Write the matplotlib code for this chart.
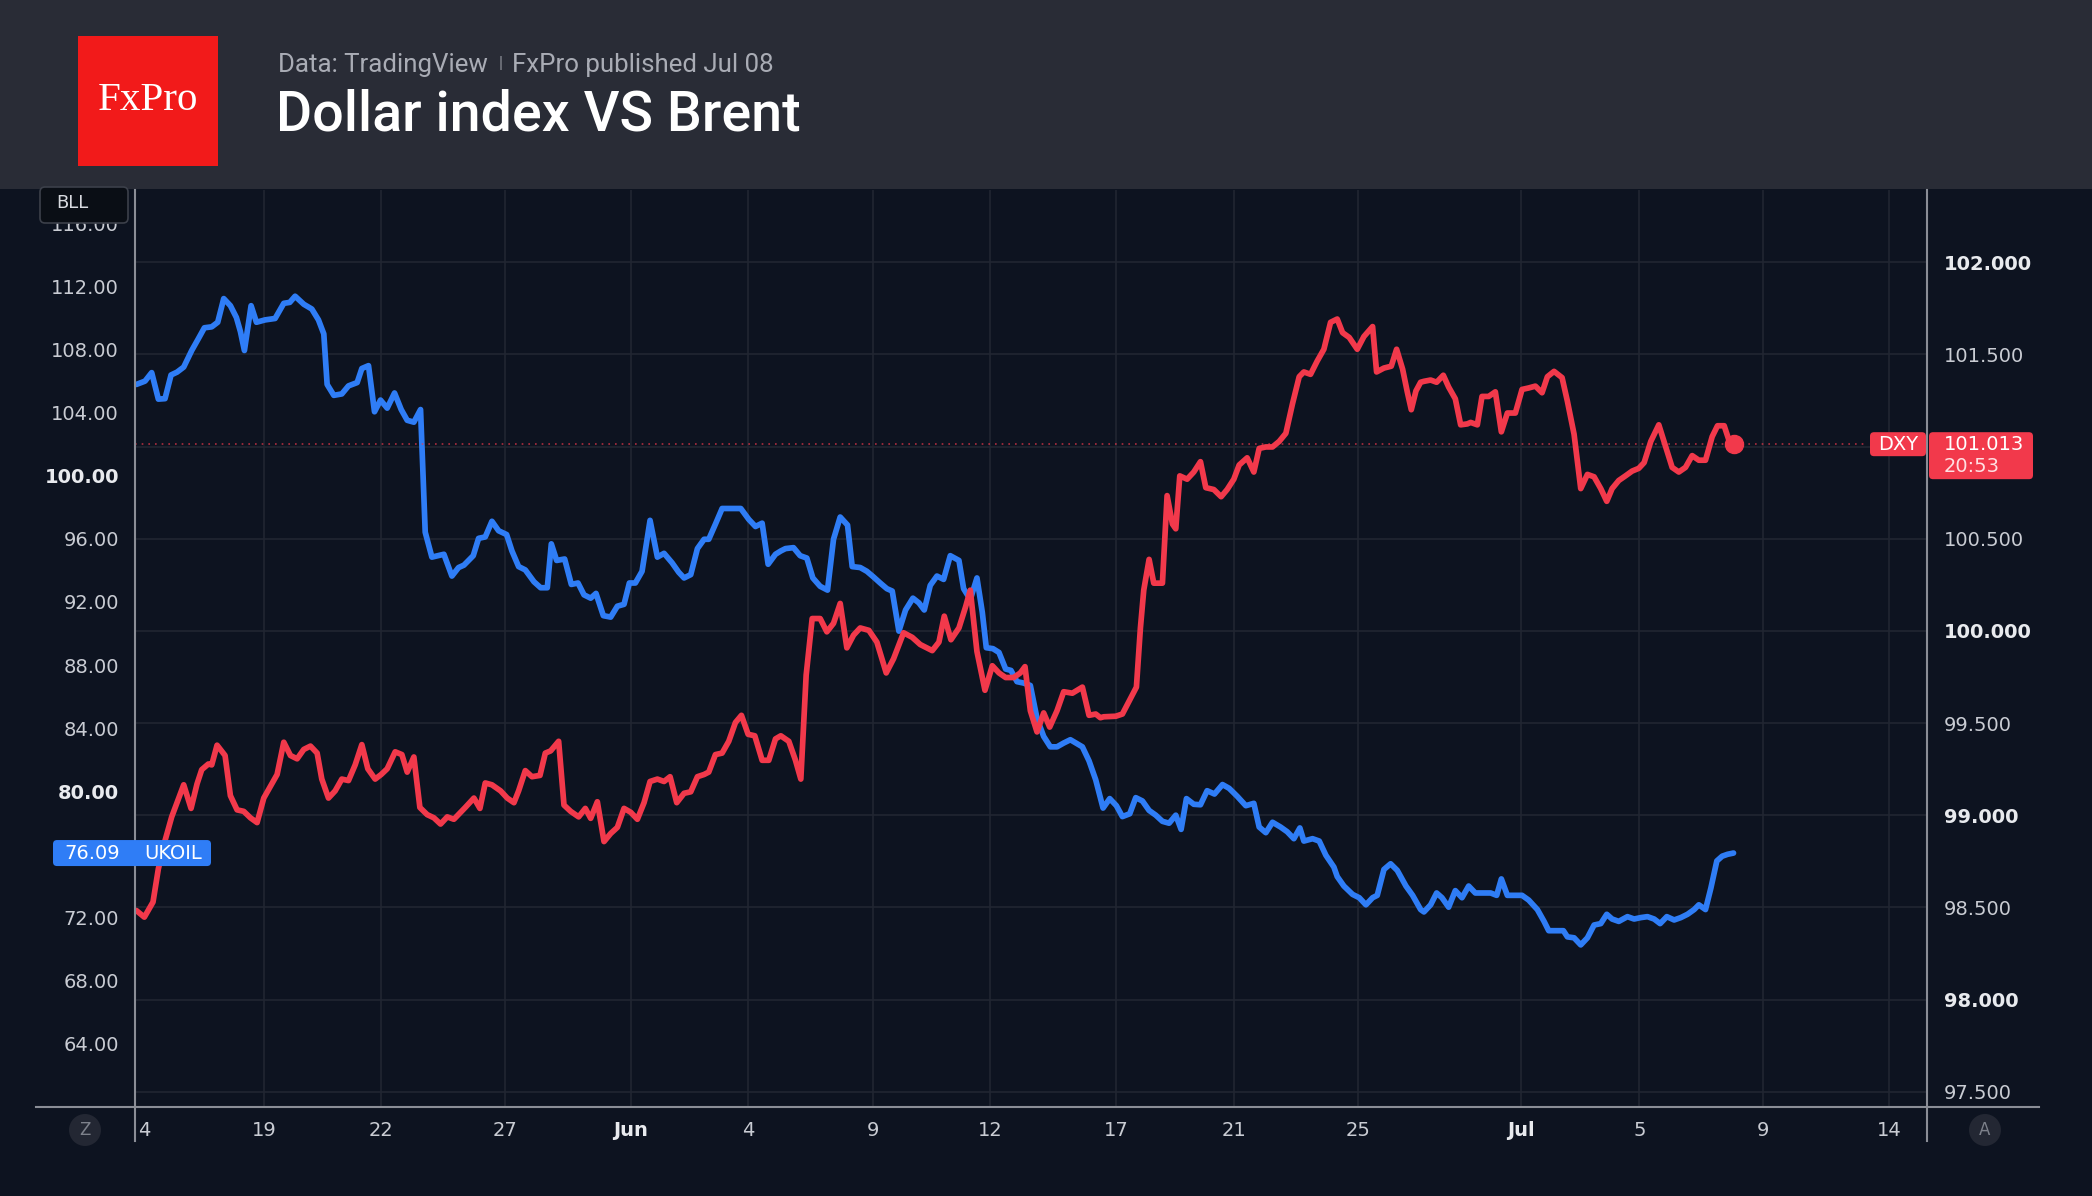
import matplotlib
matplotlib.use("Agg")
import matplotlib.pyplot as plt
from matplotlib.patches import Rectangle, FancyBboxPatch, Circle
from matplotlib.lines import Line2D
from matplotlib.transforms import IdentityTransform

# colors
BG = '#0d1320'
HEADER = '#292c36'
GRID = '#212632'
AXLINE = '#8a8d96'
BLUE = '#2f7df6'
RED = '#f2394b'
LOGO = '#f21a1a'
TXT = '#c9ccd3'
TXT_B = '#e8eaee'

# x is a bar index along the TradingView time scale
brent_x = [0.2, 1.5, 2.5, 3.5, 4.5, 5.4, 6.3, 7.3, 8.5, 9.5, 10.4, 11.5, 12.4, 13.3, 14.3, 15.2, 15.8, 16.4,
           17.4, 18.2, 19.5, 21.0, 22.3, 23.2, 24.0, 25.3, 26.5, 27.5, 28.3, 28.8, 29.8, 31.0, 32.0, 33.3,
           34.0, 35.0, 35.9, 36.8, 37.8, 38.9, 39.9, 40.8, 41.8, 42.8, 43.5, 44.5, 46.3, 47.5, 48.5,
           49.3, 50.7, 51.5, 52.5, 53.5, 54.5, 55.7, 56.5, 57.5, 58.5, 59.8, 60.8, 61.8, 62.4, 63.2, 64.4,
           65.4, 66.4, 67.3, 68.3, 69.1, 70.2, 71.3, 72.3, 73.3, 74.1, 75.0, 76.0, 77.2, 78.3, 79.3, 80.5,
           81.5, 82.3, 83.3, 84.3, 85.3, 86.0, 87.0, 88.0, 90.8, 92.0, 93.0, 94.0, 94.9, 96.0, 96.8,
           97.5, 98.7, 99.7, 100.7, 101.6, 102.7, 103.8, 104.7, 105.7, 106.8, 107.5, 108.7, 109.7, 110.7,
           111.7, 112.7, 113.5, 114.5, 115.5, 116.6, 117.5, 118.3, 119.2, 120.2, 121.2, 122.2, 123.5, 124.2,
           125.2, 126.2, 127.0, 127.6, 128.6, 129.5, 130.5, 131.3, 132.2, 133.2, 134.2, 135.2, 136.2, 137.2,
           138.2, 139.2, 140.2, 142.0, 143.0, 144.0,
           145.1, 146.1, 147.1, 148.0, 149.1, 150.0, 151.0, 152.0, 153.0, 154.0, 155.0, 156.0, 156.8, 157.6,
           158.7, 159.7, 160.7, 161.8, 163.0, 164.0, 165.2, 166.5, 167.7, 168.5, 169.5, 170.5, 171.7, 172.7,
           173.7, 174.6, 175.2, 176.5, 177.5, 178.5, 179.7, 180.2, 181.2, 182.5, 183.5, 184.5, 185.5, 186.2,
           187.2, 188.2, 189.2, 190.5, 191.5, 192.7,
           193.2, 194.2, 195.1, 195.9, 196.9, 197.9, 198.9, 199.9, 200.9, 201.9, 203.2, 204.1, 204.8, 205.7,
           206.7, 207.9, 208.9, 210.2, 211.2, 211.9, 213.2, 214.1, 214.7, 215.7, 216.7, 217.7, 218.7, 219.7,
           220.6, 221.4, 222.4, 223.7, 224.7, 225.7, 226.7, 227.7, 228.6, 229.6, 230.7, 231.7, 232.7, 233.7,
           234.4, 235.4, 236.2, 237.1, 237.9, 238.7, 239.6]
brent_y = [105.78, 105.99, 106.53, 104.85, 104.88, 106.38, 106.56, 106.88, 107.93, 108.68, 109.37, 109.43,
           109.72, 111.22, 110.77, 110.02, 109.13, 107.93, 110.77, 109.72, 109.87, 109.96, 110.92, 110.98,
           111.37, 110.86, 110.56, 109.87, 108.98, 105.78, 105.09, 105.18, 105.69, 105.90, 106.79, 106.97,
           104.05, 104.79, 104.28, 105.24, 104.19, 103.51, 103.39, 104.19, 96.42, 94.84, 95.02, 93.64, 94.18,
           94.33, 94.93, 96.03, 96.12, 97.11, 96.51, 96.27, 95.23, 94.24, 94.03, 93.28, 92.90, 92.90, 95.68,
           94.63, 94.72, 93.11, 93.20, 92.45, 92.24, 92.54, 91.13, 91.04, 91.73, 91.85, 93.20, 93.20, 93.94,
           97.17, 94.84, 95.08, 94.48, 93.88, 93.52, 93.73, 95.38, 95.97, 95.97, 96.93, 97.92, 97.92, 97.23,
           96.78, 96.99, 94.39, 95.02, 95.23,
           95.38, 95.44, 94.93, 94.78, 93.52, 92.99, 92.75, 95.97, 97.38, 96.87, 94.24, 94.18, 93.94, 93.58,
           93.20, 92.84, 92.69, 90.15, 91.49, 92.24, 91.94, 91.49, 93.05, 93.64, 93.43, 94.93, 94.63, 92.84,
           92.15, 93.52, 91.34, 89.10, 89.04, 88.80, 87.75, 87.66, 86.95, 86.86, 86.71, 84.62, 83.48, 82.82,
           82.82, 83.06, 83.27, 82.82, 81.93, 80.73,
           78.94, 79.54, 79.09, 78.40, 78.58, 79.60, 79.39, 78.79, 78.49, 78.10, 77.98, 78.49, 77.59, 79.54,
           79.18, 79.15, 80.04, 79.83, 80.43, 80.19, 79.69, 79.09, 79.24, 77.74, 77.38, 78.04, 77.74, 77.44,
           77.00, 77.68, 76.85, 77.00, 76.85, 75.95, 75.20, 74.60, 74.00, 73.47, 73.26, 72.81, 73.26, 73.41,
           75.05, 75.41, 74.99, 74.00, 73.41, 72.51,
           72.36, 72.81, 73.56, 73.26, 72.66, 73.71, 73.26, 74.00, 73.56, 73.56, 73.56, 73.41, 74.45, 73.41,
           73.41, 73.41, 73.11, 72.51, 71.76, 71.17, 71.17, 71.17, 70.78, 70.72, 70.27, 70.72, 71.53, 71.62,
           72.21, 71.91, 71.76, 72.06, 71.91, 72.00, 72.06, 71.91, 71.62, 72.06, 71.85, 72.00, 72.21, 72.51,
           72.81, 72.51, 73.86, 75.59, 75.89, 76.01, 76.09]

dxy_x = [0.2, 1.4, 2.7, 3.5, 4.5, 5.5, 6.3, 7.3, 8.4, 9.3, 10.0, 11.0, 11.5, 12.3, 13.5, 14.3, 15.3, 16.3,
         17.3, 18.3, 19.3, 20.3, 21.3, 22.3, 23.3, 24.3, 25.3, 26.3, 27.3, 28.0, 29.0, 30.0, 31.0, 32.0,
         33.0, 34.0, 34.9, 36.0, 36.9, 37.8, 39.0, 40.0, 40.8, 41.8, 42.7, 43.8, 44.8, 45.8, 46.8, 47.8, 48.8,
         49.5, 50.8, 51.7, 52.5, 53.5, 54.8, 55.8, 56.8, 57.5, 58.5, 59.5, 60.7, 61.5, 62.3, 63.5, 64.3,
         65.3, 66.5, 67.5, 68.3, 69.3, 70.3, 71.3, 72.3, 73.3, 74.3, 75.3, 76.3, 77.2, 78.3, 79.3, 80.2,
         81.2, 82.3, 83.3, 84.3, 85.3, 86.0, 87.0, 88.0, 89.0, 90.0, 90.9, 91.9, 92.9, 94.0, 95.0, 96.0, 96.8,
         98.0, 99.0, 99.8, 100.6, 101.5, 102.7, 103.7, 104.7, 105.7, 106.7, 107.7, 108.7, 110.0, 111.2,
         112.6, 113.7, 115.2, 116.5, 117.7, 119.5, 120.5, 121.3, 122.3, 123.5, 124.5, 125.2, 126.2, 127.4,
         128.5, 129.5, 130.5, 131.7, 132.7, 133.4, 134.2, 135.2, 136.2, 137.1, 138.2, 139.2, 140.5, 142.0,
         143.0, 144.0, 144.7,
         145.2, 147.0, 148.0, 149.0, 150.1, 150.7, 151.2, 152.0, 152.7, 154.0, 154.7, 155.5, 156.0, 156.6,
         157.7, 158.7, 159.7, 160.5, 161.7, 162.8, 163.7, 164.7, 165.5, 166.7, 167.7, 168.5, 169.5, 170.5,
         171.5, 172.5, 173.5, 174.5, 175.2, 176.2, 177.2, 178.2, 179.2, 180.2, 181.0, 182.0, 183.2, 184.2,
         185.5, 186.1, 187.2, 188.3, 189.1, 190.0, 190.7, 191.3, 192.0, 192.7,
         193.2, 194.2, 195.1, 196.1, 196.9, 197.9, 198.7, 199.7, 200.2, 201.2, 201.9, 202.9, 203.9, 204.8,
         205.7, 206.9, 207.9, 208.9, 209.9, 210.9, 211.7, 212.7, 213.9, 214.7, 215.7, 216.7, 217.7, 218.7,
         219.7, 220.6, 221.4, 222.4, 223.4, 224.4, 225.4, 226.2, 227.2, 228.4, 229.4, 230.4, 231.4, 232.4,
         233.4, 234.4, 235.4, 236.4, 237.2, 238.2, 238.9, 239.6]
dxy_y = [98.483, 98.447, 98.529, 98.709, 98.862, 98.991, 99.068, 99.165, 99.037, 99.170, 99.247, 99.278,
         99.273, 99.380, 99.324, 99.106, 99.029, 99.021, 98.986, 98.960, 99.093, 99.157, 99.221, 99.396,
         99.324, 99.306, 99.357, 99.375, 99.337, 99.196, 99.093, 99.132, 99.196, 99.188, 99.273, 99.383,
         99.252, 99.196, 99.221, 99.252, 99.344, 99.329, 99.234, 99.316, 99.042, 99.003, 98.986, 98.952,
         98.991, 98.978, 99.016,
         99.042, 99.093, 99.037, 99.175, 99.165, 99.132, 99.093, 99.068, 99.132, 99.242, 99.209, 99.216,
         99.337, 99.349, 99.401, 99.055, 99.021, 98.991, 99.037, 98.983, 99.073, 98.857, 98.901, 98.934,
         99.037, 99.016, 98.978, 99.068, 99.183, 99.196, 99.183, 99.209, 99.068, 99.119, 99.127, 99.209,
         99.221, 99.234, 99.329, 99.337, 99.401, 99.503, 99.542, 99.439, 99.431, 99.298, 99.298, 99.414,
         99.431,
         99.401, 99.298, 99.196, 99.760, 100.067, 100.067, 99.995, 100.041, 100.149, 99.908, 99.977,
         100.016, 100.003, 99.939, 99.772, 99.849, 99.990, 99.965, 99.926, 99.893, 99.939, 100.080, 99.952,
         100.016, 100.131, 100.221, 99.888, 99.678, 99.811, 99.772, 99.747, 99.747, 99.772, 99.806, 99.567,
         99.452, 99.555, 99.478, 99.567, 99.670, 99.662, 99.695, 99.542, 99.549, 99.529,
         99.534, 99.537, 99.549, 99.619, 99.695, 100.016, 100.221, 100.388, 100.259, 100.259, 100.734,
         100.580, 100.554, 100.841, 100.823, 100.862, 100.918, 100.777, 100.767, 100.728, 100.767, 100.823,
         100.900, 100.939, 100.862, 100.990, 100.998, 100.998, 101.028, 101.072, 101.233, 101.379, 101.405,
         101.392, 101.464, 101.528, 101.674, 101.692, 101.618, 101.592, 101.528, 101.597, 101.651, 101.405,
         101.426, 101.436, 101.528, 101.420, 101.297, 101.200, 101.302, 101.349,
         101.354, 101.361, 101.349, 101.387, 101.323, 101.259, 101.118, 101.123, 101.131, 101.118, 101.272,
         101.272, 101.297, 101.080, 101.182, 101.182, 101.310, 101.318, 101.328, 101.292, 101.379, 101.408,
         101.374, 101.246, 101.067, 100.772, 100.849, 100.836, 100.772, 100.703, 100.772, 100.816, 100.841,
         100.867, 100.882, 100.913, 101.028, 101.118, 101.003, 100.887, 100.862, 100.887, 100.951, 100.926,
         100.926, 101.054, 101.113, 101.113, 101.036, 101.013]

date_ticks = [19.3, 36.9, 55.5, 74.3, 91.9, 110.6, 128.2, 147.1, 164.7, 183.3, 207.8, 225.5, 244.0, 262.9]
date_labels = ['19', '22', '27', 'Jun', '4', '9', '12', '17', '21', '25', 'Jul', '5', '9', '14']
bold_dates = ['Jun', 'Jul']

brent_ticks = [64, 68, 72, 80, 84, 88, 92, 96, 100, 104, 108, 112, 116]
brent_bold = [80, 100]
dxy_ticks = [97.5, 98.0, 98.5, 99.0, 99.5, 100.0, 100.5, 101.0, 101.5, 102.0]
dxy_tick_labels = [97.5, 98.0, 98.5, 99.0, 99.5, 100.0, 100.5, 101.5, 102.0]

dxy_last = 101.013
dxy_time = '20:53'

W, H = 2092, 1196
fig = plt.figure(figsize=(W / 100, H / 100), dpi=100, facecolor=BG)
ident = IdentityTransform()

def px_box(x0, x1, ytop, ybot, fc, ec='none', lw=0, r=4, z=10):
    p = FancyBboxPatch((x0, H - ybot), x1 - x0, ybot - ytop, boxstyle="round,pad=0,rounding_size=%d" % r,
                       transform=ident, fc=fc, ec=ec, lw=lw, zorder=z)
    fig.add_artist(p)

def px_text(x, y, s, **kw):
    return fig.text(x / W, 1 - y / H, s, **kw)

# header
fig.add_artist(Rectangle((0, 1 - 189 / H), 1, 189 / H, transform=fig.transFigure, fc=HEADER, ec='none', zorder=0))
fig.add_artist(Rectangle((78 / W, 1 - 166 / H), 140 / W, 130 / H, transform=fig.transFigure, fc=LOGO, ec='none', zorder=1))
px_text(148, 100, 'FxPro', family='Liberation Serif', fontsize=29.5, color='white', ha='center', va='center')
sub = px_text(278, 65, 'Data: TradingView', family='Roboto', fontsize=18.6, color='#a9acb5', va='center')
r = fig.canvas.get_renderer()
bb = sub.get_window_extent(r)
px_text(bb.x1 + 11, 64, '|', family='Roboto', fontsize=12, color='#8b8e97', va='center')
px_text(bb.x1 + 24, 65, 'FxPro published Jul 08', family='Roboto', fontsize=18.6, color='#a9acb5', va='center')
px_text(276, 115, 'Dollar index VS Brent', family='Roboto', fontsize=40, weight='medium', color='white', va='center')

rect = [135 / W, 1 - 1107 / H, (1927 - 135) / W, (1107 - 190) / H]
xlim = (0, 268.6)

# grid axes (bottom layer, DXY scale)
axg = fig.add_axes(rect)
axg.set_facecolor(BG)
axg.set_xlim(*xlim)
axg.set_ylim(97.417, 102.392)
for v in dxy_ticks:
    axg.axhline(v, color=GRID, lw=1.2)
for t in date_ticks:
    axg.axvline(t, color=GRID, lw=1.2)
axg.set_xticks(date_ticks + [1.4])
axg.set_xticklabels(date_labels + ['4'])
axg.tick_params(axis='x', length=0, pad=10, labelsize=14, colors=TXT)
for lbl in axg.get_xticklabels():
    if lbl.get_text() in bold_dates:
        lbl.set_fontweight('bold')
        lbl.set_color(TXT_B)
axg.set_yticks([])

# Brent axis
axb = fig.add_axes(rect)
axb.patch.set_visible(False)
axb.set_xlim(*xlim)
axb.set_ylim(60.0, 118.1)
axb.plot(brent_x, brent_y, color=BLUE, lw=4.1, solid_joinstyle='round', solid_capstyle='round')
axb.set_yticks(brent_ticks)
axb.set_yticklabels(['%.2f' % v for v in brent_ticks])
axb.tick_params(axis='y', length=0, pad=11.5, labelsize=14, colors=TXT)
for lbl, v in zip(axb.get_yticklabels(), brent_ticks):
    if v in brent_bold:
        lbl.set_fontweight('bold')
        lbl.set_color(TXT_B)
axb.set_xticks([])

# DXY axis
axr = fig.add_axes(rect)
axr.patch.set_visible(False)
axr.set_xlim(*xlim)
axr.set_ylim(97.417, 102.392)
axr.axhline(dxy_last, xmin=0, xmax=0.967, color=RED, lw=1.2, ls=(0, (1, 3)), alpha=0.7)
axr.plot(dxy_x, dxy_y, color=RED, lw=4.1, solid_joinstyle='round', solid_capstyle='round')
axr.plot(dxy_x[-1], dxy_y[-1], 'o', color=RED, ms=13)
axr.yaxis.tick_right()
axr.set_yticks(dxy_tick_labels)
axr.set_yticklabels(['%.3f' % v for v in dxy_tick_labels])
axr.tick_params(axis='y', length=0, pad=12, labelsize=14, colors=TXT)
for lbl, v in zip(axr.get_yticklabels(), dxy_tick_labels):
    if v == int(v):
        lbl.set_fontweight('bold')
        lbl.set_color(TXT_B)
axr.set_xticks([])

for a in (axg, axb, axr):
    for s in a.spines.values():
        s.set_visible(False)

# axis frame lines
fig.add_artist(Line2D([36, 2039], [H - 1107, H - 1107], transform=ident, color=AXLINE, lw=1.5, zorder=5))
fig.add_artist(Line2D([135, 135], [H - 190, H - 1141], transform=ident, color=AXLINE, lw=1.5, zorder=5))
fig.add_artist(Line2D([1927, 1927], [H - 190, H - 1141], transform=ident, color=AXLINE, lw=1.5, zorder=5))

# Z / A buttons
for cx, ch in ((85, 'Z'), (1985, 'A')):
    fig.add_artist(Circle((cx, H - 1130), 16, transform=ident, fc='#232733', ec='none', zorder=6))
    px_text(cx, 1130, ch, fontsize=12, color='#7d818b', ha='center', va='center', zorder=7)

# BLL box over the top left label
px_box(40, 128, 187, 223, '#0a0e15', ec='#3c404a', lw=1.2, r=5, z=10)
px_text(56, 203, 'BLL', fontsize=13, color='#d8dae0', va='center', zorder=11)

# UKOIL label
yu = H - axb.transData.transform((0, brent_y[-1]))[1]
px_box(53, 211, yu - 13, yu + 13, BLUE, r=4, z=10)
px_text(92, yu, '%.2f' % brent_y[-1], fontsize=14, color='white', ha='center', va='center', zorder=11)
px_text(173, yu, 'UKOIL', fontsize=14, color='white', ha='center', va='center', zorder=11)

# DXY labels
yd = H - axr.transData.transform((0, dxy_last))[1]
px_box(1870, 1926, yd - 12, yd + 12, RED, r=4, z=10)
px_text(1898, yd, 'DXY', fontsize=14, color='white', ha='center', va='center', zorder=11)
px_box(1929, 2033, yd - 12, yd + 35, RED, r=4, z=10)
px_text(1944, yd, '%.3f' % dxy_last, fontsize=14, color='white', va='center', zorder=11)
px_text(1944, yd + 22, dxy_time, fontsize=14, color='#ffdfe2', va='center', zorder=11)

fig.savefig('out.png', dpi=100, facecolor=BG)
